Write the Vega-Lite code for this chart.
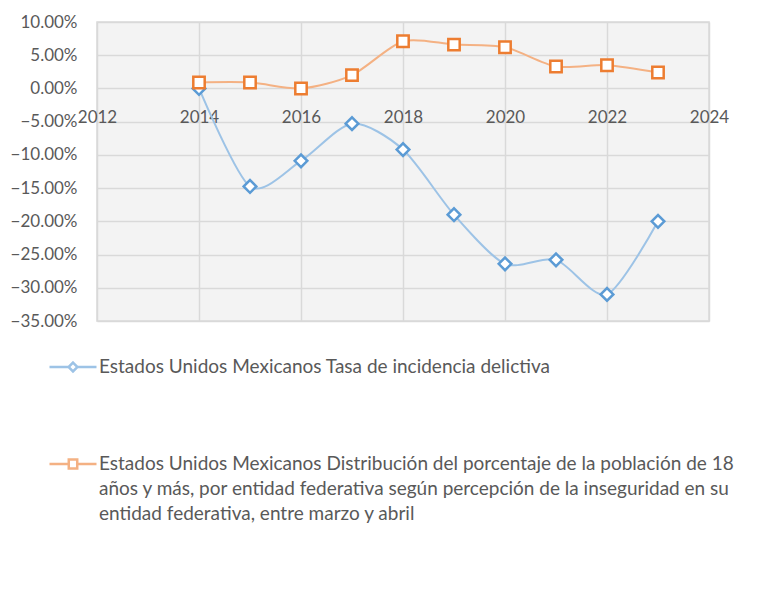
{
  "$schema": "https://vega.github.io/schema/vega-lite/v6.json",
  "width": 612,
  "height": 299,
  "autosize": {"type": "none"},
  "padding": {"left": 97, "top": 22, "right": 72, "bottom": 285},
  "background": "white",
  "config": {
    "font": "Lato",
    "view": {"stroke": "#d9d9d9", "strokeWidth": 1.5, "fill": "#f3f3f3"},
    "axis": {"labelFont": "Lato", "labelColor": "#595959", "labelFontSize": 17, "gridColor": "#d9d9d9", "gridWidth": 1.5, "domain": false, "ticks": false, "title": null}
  },
  "data": {
    "values": [
      {"year": 2014, "series": "Estados Unidos Mexicanos Tasa de incidencia delictiva", "value": 0.0},
      {"year": 2015, "series": "Estados Unidos Mexicanos Tasa de incidencia delictiva", "value": -0.1475},
      {"year": 2016, "series": "Estados Unidos Mexicanos Tasa de incidencia delictiva", "value": -0.109},
      {"year": 2017, "series": "Estados Unidos Mexicanos Tasa de incidencia delictiva", "value": -0.053},
      {"year": 2018, "series": "Estados Unidos Mexicanos Tasa de incidencia delictiva", "value": -0.092},
      {"year": 2019, "series": "Estados Unidos Mexicanos Tasa de incidencia delictiva", "value": -0.19},
      {"year": 2020, "series": "Estados Unidos Mexicanos Tasa de incidencia delictiva", "value": -0.264},
      {"year": 2021, "series": "Estados Unidos Mexicanos Tasa de incidencia delictiva", "value": -0.258},
      {"year": 2022, "series": "Estados Unidos Mexicanos Tasa de incidencia delictiva", "value": -0.31},
      {"year": 2023, "series": "Estados Unidos Mexicanos Tasa de incidencia delictiva", "value": -0.2},
      {"year": 2014, "series": "Estados Unidos Mexicanos Distribución del porcentaje de la población de 18 años y más, por entidad federativa según percepción de la inseguridad en su entidad federativa, entre marzo y abril", "value": 0.009},
      {"year": 2015, "series": "Estados Unidos Mexicanos Distribución del porcentaje de la población de 18 años y más, por entidad federativa según percepción de la inseguridad en su entidad federativa, entre marzo y abril", "value": 0.009},
      {"year": 2016, "series": "Estados Unidos Mexicanos Distribución del porcentaje de la población de 18 años y más, por entidad federativa según percepción de la inseguridad en su entidad federativa, entre marzo y abril", "value": 0.0},
      {"year": 2017, "series": "Estados Unidos Mexicanos Distribución del porcentaje de la población de 18 años y más, por entidad federativa según percepción de la inseguridad en su entidad federativa, entre marzo y abril", "value": 0.02},
      {"year": 2018, "series": "Estados Unidos Mexicanos Distribución del porcentaje de la población de 18 años y más, por entidad federativa según percepción de la inseguridad en su entidad federativa, entre marzo y abril", "value": 0.071},
      {"year": 2019, "series": "Estados Unidos Mexicanos Distribución del porcentaje de la población de 18 años y más, por entidad federativa según percepción de la inseguridad en su entidad federativa, entre marzo y abril", "value": 0.066},
      {"year": 2020, "series": "Estados Unidos Mexicanos Distribución del porcentaje de la población de 18 años y más, por entidad federativa según percepción de la inseguridad en su entidad federativa, entre marzo y abril", "value": 0.062},
      {"year": 2021, "series": "Estados Unidos Mexicanos Distribución del porcentaje de la población de 18 años y más, por entidad federativa según percepción de la inseguridad en su entidad federativa, entre marzo y abril", "value": 0.033},
      {"year": 2022, "series": "Estados Unidos Mexicanos Distribución del porcentaje de la población de 18 años y más, por entidad federativa según percepción de la inseguridad en su entidad federativa, entre marzo y abril", "value": 0.035},
      {"year": 2023, "series": "Estados Unidos Mexicanos Distribución del porcentaje de la población de 18 años y más, por entidad federativa según percepción de la inseguridad en su entidad federativa, entre marzo y abril", "value": 0.024}
    ]
  },
  "encoding": {
    "x": {
      "field": "year", "type": "quantitative",
      "scale": {"domain": [2012, 2024], "nice": false, "zero": false},
      "axis": {"values": [2012, 2014, 2016, 2018, 2020, 2022, 2024], "format": "d", "grid": true, "offset": -233, "labelPadding": 21, "labelFlush": false, "labelOverlap": false}
    },
    "y": {
      "field": "value", "type": "quantitative",
      "scale": {"domain": [-0.35, 0.1], "nice": false, "zero": false},
      "axis": {"values": [-0.35, -0.3, -0.25, -0.2, -0.15, -0.1, -0.05, 0, 0.05, 0.1], "format": ".2%", "grid": true, "labelPadding": 20}
    }
  },
  "layer": [
    {
      "mark": {"type": "line", "interpolate": "cardinal", "tension": 0.2, "strokeWidth": 2},
      "encoding": {
        "color": {
          "field": "series", "type": "nominal",
          "scale": {
            "domain": ["Estados Unidos Mexicanos Tasa de incidencia delictiva", "Estados Unidos Mexicanos Distribución del porcentaje de la población de 18 años y más, por entidad federativa según percepción de la inseguridad en su entidad federativa, entre marzo y abril"],
            "range": ["#9dc3e6", "#f4b183"]
          },
          "legend": {
            "orient": "none", "legendX": -49, "legendY": 320, "title": null,
            "direction": "vertical",
            "symbolSize": 2209, "symbolStrokeWidth": 2.5,
            "labelFont": "Lato", "labelFontSize": 19, "labelColor": "#595959", "labelLimit": 760, "labelOffset": 1,
            "rowPadding": 62,
            "labelExpr": "indexof(datum.value, 'Tasa') >= 0 ? datum.value : ['Estados Unidos Mexicanos Distribución del porcentaje de la población de 18', 'años y más, por entidad federativa según percepción de la inseguridad en su', 'entidad federativa, entre marzo y abril']",
            "encode": {
              "labels": {"update": {"lineHeight": {"value": 25}}}
            }
          }
        }
      }
    },
    {
      "mark": {"type": "point", "filled": true, "fill": "white", "strokeWidth": 2.5, "opacity": 0, "size": 4},
      "encoding": {
        "shape": {
          "field": "series", "type": "nominal",
          "scale": {
            "domain": ["Estados Unidos Mexicanos Tasa de incidencia delictiva", "Estados Unidos Mexicanos Distribución del porcentaje de la población de 18 años y más, por entidad federativa según percepción de la inseguridad en su entidad federativa, entre marzo y abril"],
            "range": ["M-1,0L-0.19,0M0.19,0L1,0M0,-0.19L0.19,0L0,0.19L-0.19,0Z", "M-1,0L-0.18,0M0.18,0L1,0M-0.18,-0.19L0.18,-0.19L0.18,0.19L-0.18,0.19Z"]
          },
          "legend": null
        },
        "stroke": {
          "field": "series", "type": "nominal",
          "scale": {
            "domain": ["Estados Unidos Mexicanos Tasa de incidencia delictiva", "Estados Unidos Mexicanos Distribución del porcentaje de la población de 18 años y más, por entidad federativa según percepción de la inseguridad en su entidad federativa, entre marzo y abril"],
            "range": ["#5b9bd5", "#ed7d31"]
          },
          "legend": null
        }
      }
    },
    {
      "transform": [{"filter": "indexof(datum.series, 'Tasa') >= 0"}],
      "mark": {"type": "point", "shape": "diamond", "filled": true, "fill": "white", "stroke": "#5b9bd5", "strokeWidth": 2.5, "opacity": 1, "size": 160}
    },
    {
      "transform": [{"filter": "indexof(datum.series, 'Tasa') < 0"}],
      "mark": {"type": "point", "shape": "square", "filled": true, "fill": "white", "stroke": "#ed7d31", "strokeWidth": 2.5, "opacity": 1, "size": 130}
    }
  ]
}
